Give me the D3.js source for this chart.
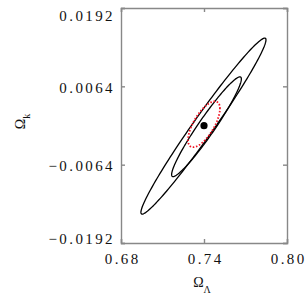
<!DOCTYPE html>
<html>
<head>
<meta charset="utf-8">
<script src="https://cdn.jsdelivr.net/npm/d3@7"></script>
<style>
  body { margin: 0; background: #fff; }
  svg { display: block; }
  .tick text { font-family: "Liberation Serif", serif; font-size: 15px; letter-spacing: 2.4px; fill: #111; }
  .domain, .tick line { stroke: #888; stroke-width: 1.4; }
</style>
</head>
<body>
<div id="chart"></div>
<script>
// contour parameters (Omega_Lambda, Omega_k): outer, inner, red dotted
const centerX = [0.7396, 0.7418, 0.7400];
const centerY = [-0.0001, -0.0002, 0.0002];
const halfX = [0.0452, 0.0252, 0.0115];
const halfY = [0.01438, 0.00815, 0.00375];
const corr = [0.98, 0.958, 0.68];
const strokes = ["#000", "#000", "#f01020"];
const bestFit = [0.7400, -0.00003];

const xTicks = [0.68, 0.74, 0.80];
const yTicks = [-0.0192, -0.0064, 0.0064, 0.0192];

const margin = { top: 8, right: 21, bottom: 65, left: 121 };
const width = 308 - margin.left - margin.right;
const height = 308 - margin.top - margin.bottom;

const svg = d3.select("#chart")
    .append("svg")
    .attr("width", 308)
    .attr("height", 308)
    .append("g")
    .attr("transform", `translate(${margin.left},${margin.top})`);

const x = d3.scaleLinear().domain([0.68, 0.80]).range([0, width]);
const y = d3.scaleLinear().domain([-0.0192, 0.0192]).range([height, 0]);

const fmtY = d => d3.format(".4f")(d).replace("-", "\u2212");

// contours
const line = d3.line().x(d => x(d[0])).y(d => y(d[1])).curve(d3.curveLinearClosed);
centerX.forEach((cx, i) => {
    const pts = d3.range(0, 360, 2).map(a => {
        const t = a * Math.PI / 180;
        return [cx + halfX[i] * Math.cos(t),
                centerY[i] + halfY[i] * (corr[i] * Math.cos(t) + Math.sqrt(1 - corr[i] * corr[i]) * Math.sin(t))];
    });
    svg.append("path")
        .attr("d", line(pts))
        .style("fill", "none")
        .style("stroke", strokes[i])
        .style("stroke-width", i == 2 ? 1.8 : 1.3)
        .style("stroke-dasharray", i == 2 ? "1.5,1.8" : null);
});

svg.append("circle")
    .attr("cx", x(bestFit[0]))
    .attr("cy", y(bestFit[1]))
    .attr("r", 3.6)
    .style("fill", "#000");

// axes
svg.append("g")
    .attr("transform", `translate(0,${height})`)
    .call(d3.axisBottom(x).tickValues(xTicks).tickSize(-4).tickPadding(10).tickFormat(d3.format(".2f")))
    .call(g => g.selectAll(".tick text").attr("dx", "1.2px"));

svg.append("g")
    .call(d3.axisTop(x).tickValues(xTicks).tickSize(-4).tickFormat(""));

svg.append("g")
    .call(d3.axisLeft(y).tickValues(yTicks).tickSize(-4).tickPadding(6).tickFormat(fmtY))
    .call(g => g.selectAll(".tick text")
        .attr("dy", d => d == 0.0192 ? "0.85em" : d == -0.0192 ? "0.05em" : "0.4em"));

svg.append("g")
    .attr("transform", `translate(${width},0)`)
    .call(d3.axisRight(y).tickValues(yTicks).tickSize(-4).tickFormat(""));

svg.selectAll(".domain").attr("stroke", "#888");

// axis titles
const xt = svg.append("text")
    .attr("x", 81)
    .attr("y", height + 44)
    .attr("text-anchor", "middle")
    .style("font-family", "Liberation Serif, serif")
    .style("font-size", "14px")
    .style("fill", "#111");
xt.append("tspan").text("\u03A9");
xt.append("tspan").attr("dy", 6).style("font-size", "10px").text("\u039B");

const yt = svg.append("text")
    .attr("transform", `translate(${-96},${height / 2 - 4}) rotate(-90)`)
    .attr("text-anchor", "middle")
    .style("font-family", "Liberation Serif, serif")
    .style("font-size", "14px")
    .style("fill", "#111");
yt.append("tspan").text("\u03A9");
yt.append("tspan").attr("dy", 5).style("font-size", "10px").text("k");
</script>
</body>
</html>
